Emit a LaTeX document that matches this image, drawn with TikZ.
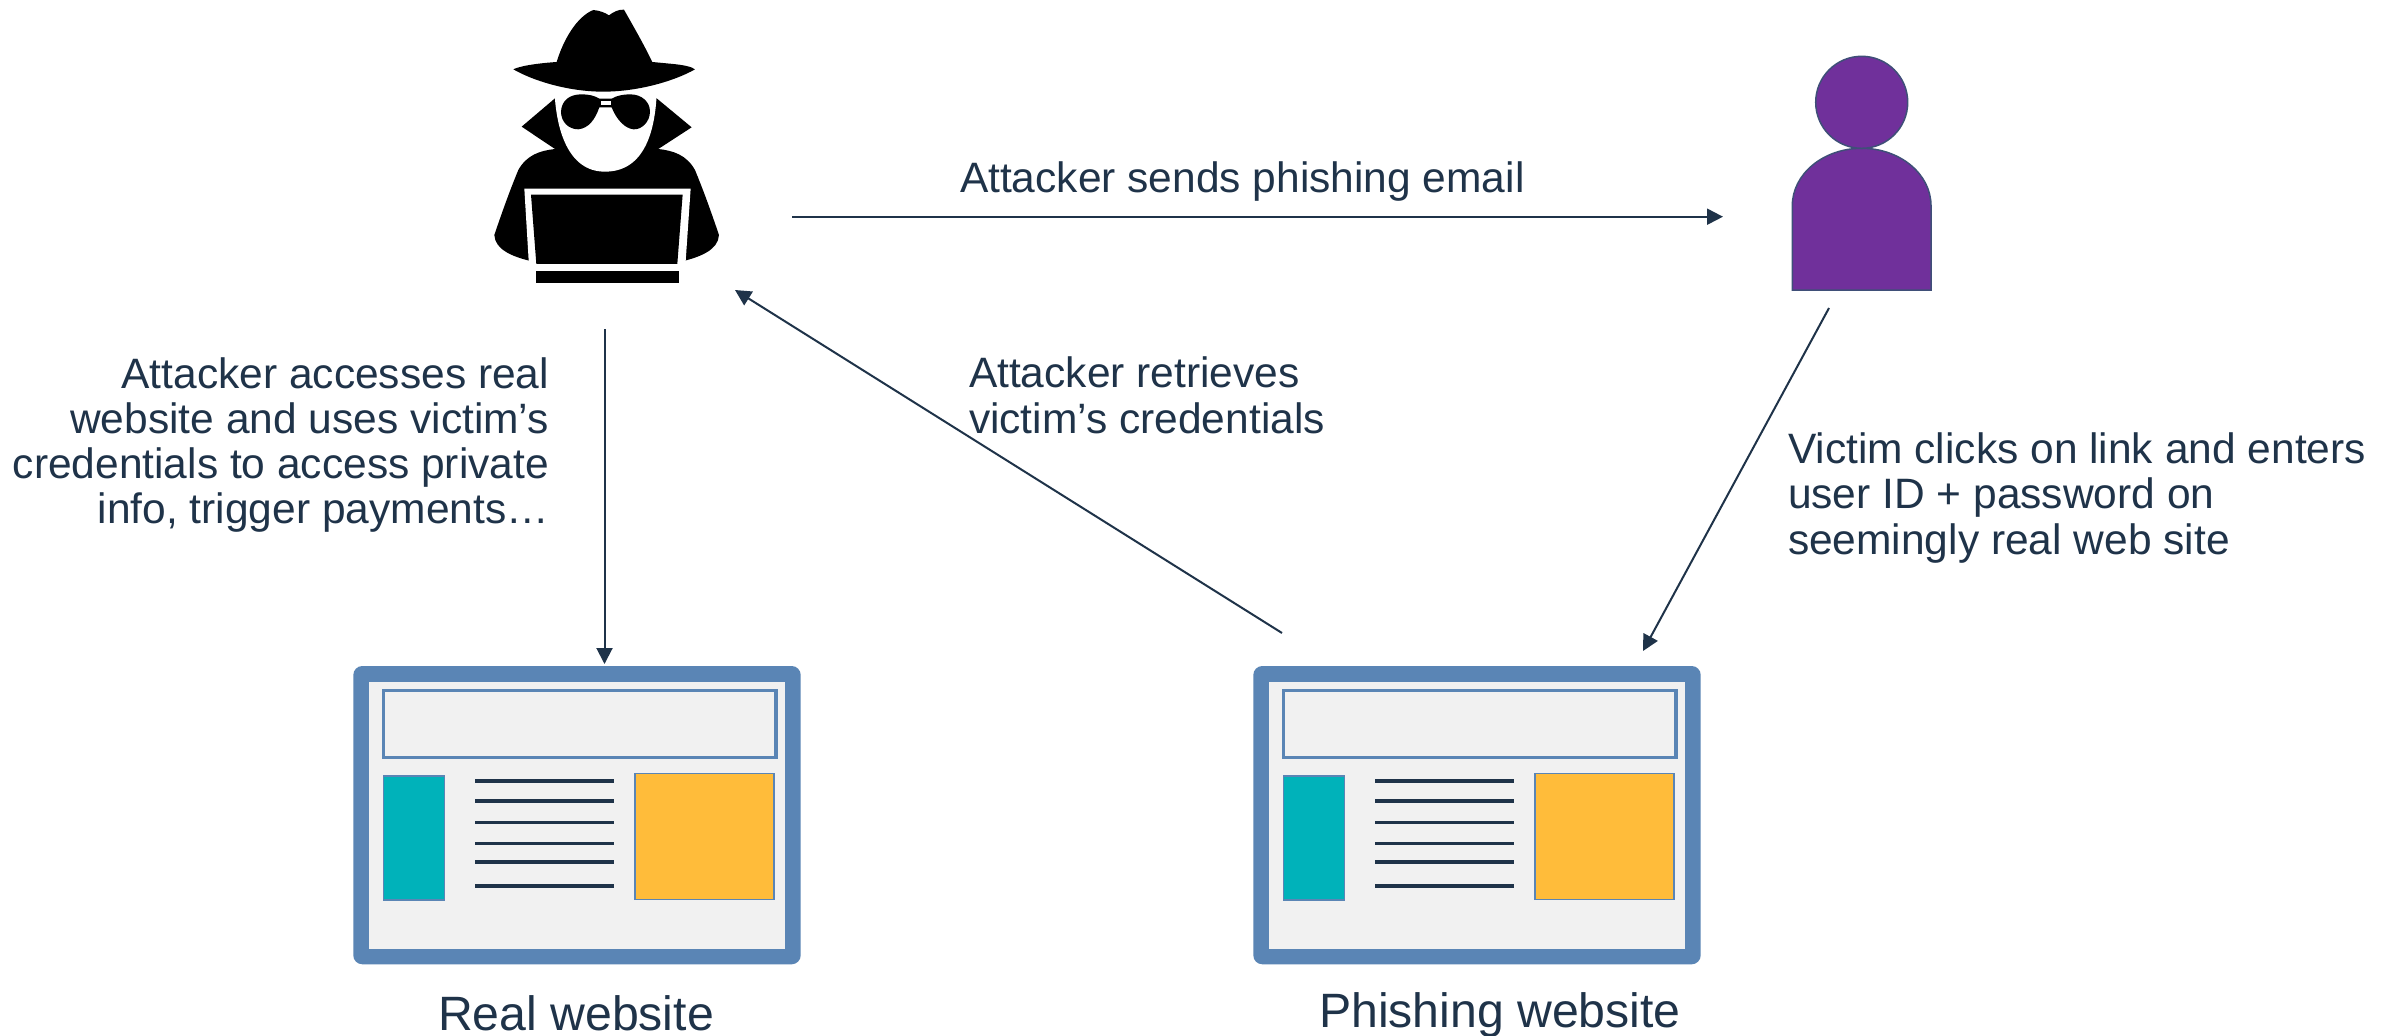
\documentclass[tikz,border=0pt]{standalone}
\usepackage{fontspec}
\setmainfont{Liberation Sans}
\usetikzlibrary{arrows.meta}
\definecolor{navy}{HTML}{1F3349}
\definecolor{frameblue}{HTML}{5A85B5}
\definecolor{panel}{HTML}{F1F1F1}
\definecolor{teal2}{HTML}{00B2BA}
\definecolor{amber}{HTML}{FFBC3A}
\definecolor{violet2}{HTML}{70309B}
\definecolor{edge2}{HTML}{3F4F78}
\tikzset{
  x=1pt,y=-1pt,
  lbl/.style={text=navy,font=\fontsize{42.5}{45.2}\selectfont,inner sep=0pt,outer sep=0pt},
  cap2/.style={text=navy,font=\fontsize{48.2}{52}\selectfont,inner sep=0pt,outer sep=0pt},
  conn/.style={draw=navy,line width=2pt,-{Triangle[length=16pt,width=16pt]}},
  frameshape/.style={fill=frameblue,rounded corners=9pt},
  sheet/.style={fill=panel},
  banner/.style={draw=frameblue,line width=3.5pt,fill=panel},
  tile/.style={draw=frameblue,line width=1.5pt},
  textline/.style={draw=navy,line width=3.5pt},
  ink/.style={fill=black,draw=none},
  paper/.style={fill=white,draw=none},
  figure2/.style={fill=violet2,draw=edge2,line width=1.5pt}
}
\newcommand{\webpage}[1]{%
\begin{scope}[shift={(#1,0)}]
  \path[frameshape] (353.3,666) rectangle (800.7,964.3);
  \path[sheet] (369,682) rectangle (785,948.7);
  \path[banner] (383.3,690.7) rectangle (776,757.7);
  \path[tile,fill=teal2] (383.3,776) rectangle (444.7,900);
  \path[tile,fill=amber] (635,773.3) rectangle (774,899.7);
  \foreach \yy in {781,801,822.3,843.7,862,886}
    \draw[textline] (475.3,\yy) -- (614.3,\yy);
\end{scope}}
\begin{document}
\begin{tikzpicture}
\useasboundingbox (0,0) rectangle (2399,1036);
\fill[white] (0,0) rectangle (2399,1036);
% spy
\begin{scope}[shift={(460,0)},x=0.3333pt,y=-0.3333pt]
  \path[ink] (400,30) .. controls (420,32) and (435,38) .. (447,46) .. controls (460,36) and (475,28) .. (492,29) .. controls (515,70) and (550,130) .. (577,186) -- (640,192) .. controls (670,195) and (695,200) .. (705,208) .. controls (650,240) and (540,275) .. (430,275) .. controls (320,275) and (215,240) .. (160,208) .. controls (180,198) and (230,190) .. (290,186) .. controls (310,120) and (350,50) .. (400,30) -- cycle;
  \path[ink] (285,295) -- (185,380) -- (285,447) .. controls (240,452) and (200,465) .. (175,510) .. controls (150,570) and (125,640) .. (103,705) .. controls (105,750) and (160,770) .. (207,782) -- (675,782) .. controls (720,770) and (775,750) .. (777,705) .. controls (755,640) and (730,570) .. (705,510) .. controls (680,465) and (640,452) .. (595,447) -- (695,382) -- (590,295) -- cycle;
  \path[paper] (284,285) -- (590,285) .. controls (585,380) and (560,515) .. (435,515) .. controls (320,515) and (290,380) .. (284,285) -- cycle;
  \path[ink] (303,335) .. controls (305,300) and (330,283) .. (365,283) .. controls (385,283) and (405,287) .. (418,296) -- (455,296) .. controls (470,287) and (490,283) .. (510,283) .. controls (545,283) and (570,305) .. (570,335) .. controls (570,365) and (545,390) .. (520,388) .. controls (495,385) and (470,360) .. (455,322) -- (418,322) .. controls (405,360) and (385,385) .. (355,388) .. controls (325,388) and (303,365) .. (303,335) -- cycle;
  \path[paper] (422,303) rectangle (452,316);
  \path[paper] (193,566) -- (692,566) -- (675,814) -- (208,814) -- cycle;
  \path[ink] (213,584) -- (668,584) -- (652,792) -- (229,792) -- cycle;
  \path[ink] (228,814) rectangle (657,848);
\end{scope}
\coordinate (spyout) at (792.3,216.7);
\coordinate (spydown) at (604.5,329);
\coordinate (spyin) at (735,290);
% person
\path[figure2] (1792.3,290) -- (1792.3,205.7) arc[start angle=180,end angle=0,x radius=69.35,y radius=-57.4] -- (1931,290) -- cycle;
\path[figure2] (1861.7,102.3) circle[radius=46];
\coordinate (personin) at (1723,216.7);
\coordinate (personout) at (1829,308);
% webs
\webpage{0}
\webpage{900}
\coordinate (realin) at (604.5,664);
\coordinate (phishin) at (1643,651);
\coordinate (phishout) at (1282,633);
% connectors
\draw[conn] (spyout) -- (personin);
\draw[conn] (spydown) -- (realin);
\draw[conn] (phishout) -- (spyin);
\draw[conn] (personout) -- (phishin);
% labels
\node[lbl,anchor=base west] (t1) at (960,192) {Attacker sends phishing email};
\node[lbl,anchor=base east,align=right] (t2) at (549,523.6) {Attacker accesses real\\website and uses victim’s\\credentials to access private\\info, trigger payments…};
\node[lbl,anchor=base west,align=left] (t3) at (969,433) {Attacker retrieves\\victim’s credentials};
\node[lbl,anchor=base west,align=left] (t4) at (1788,554) {Victim clicks on link and enters\\user ID + password on\\seemingly real web site};
\node[cap2,anchor=base] (t5) at (576,1030) {Real website};
\node[cap2,anchor=base] (t6) at (1500,1027) {Phishing website};
\end{tikzpicture}
\end{document}
